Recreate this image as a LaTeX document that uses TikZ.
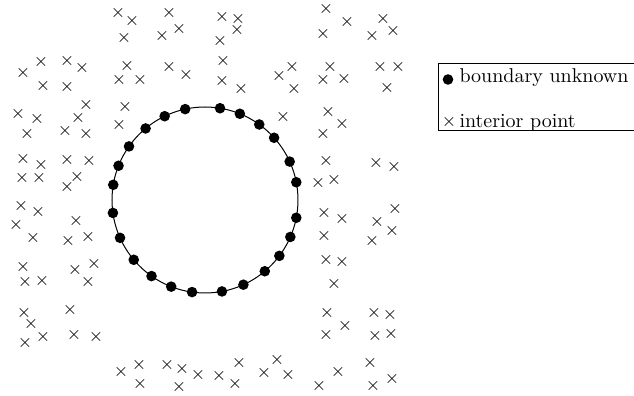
\documentclass[tikz,border=0pt]{standalone}
\begin{document}
\begin{tikzpicture}[x=0.5pt,y=-0.5pt,
  crossmark/.style={inner sep=0pt,outer sep=0pt,font=\small},
  bdot/.style={circle,fill=black,inner sep=0pt,minimum size=5.3pt},
  legtext/.style={anchor=base west,inner sep=0pt,outer sep=0pt}]
\clip (0,0) rectangle (634,396);
\coordinate (ctr) at (205,200);
\draw[line width=0.5pt] (ctr) circle[radius=46.5pt];
\foreach \a [count=\i] in {11,24.4,42,54.3,68,80.7,102.3,115.7,129.7,144.8,158.4,170.6,188,204,220,234.9,248.7,262,280.5,294.4,310,323.1,336.6,349}
  \path (ctr) ++(-\a:93) node[bdot] (b\i) {};
\foreach \p [count=\i] in {(118,13),(132,21),(124,38),(169,13),(179,29),(162,36),(41,62),(67,61),(82,68),(23,73),(43,86),(67,87),(127,66),(119,80),(140,80),(169,67),(186,75),(86,105),(18,114),(37,119),(78,118),(27,134),(65,131),(86,134),(125,107),(119,125),(23,159),(41,165),(67,160),(89,161),(22,178),(39,178),(67,187),(77,177),
 (222,17),(238,19),(237,30),(220,41),(223,61),(222,81),(241,89),(279,76),(292,67),(294,89),(326,9),(347,22),(323,34),(383,19),(393,31),(372,36),(330,67),(323,80),(344,79),(380,67),(398,67),(387,88),(283,117),(328,112),(342,124),(323,134),(326,161),(376,163),(394,167),(318,183),(334,180),
 (21,206),(38,212),(16,225),(76,221),(33,238),(68,241),(88,237),(23,267),(25,282),(42,281),(75,270),(94,264),(88,282),(24,313),(31,324),(25,343),(43,337),(70,310),(74,335),(96,337),(121,372),(139,365),(140,384),(167,365),(182,369),(179,387),(198,375),
 (219,376),(235,384),(239,363),(264,373),(277,360),(288,375),(319,386),(338,372),(370,363),(373,386),(392,379),(324,213),(342,219),(324,236),(326,260),(342,262),(334,284),(395,209),(377,222),(392,231),(372,241),(327,313),(345,326),(326,335),(374,313),(390,315),(375,336),(391,334)}
  \node[crossmark] (x\i) at \p {$\times$};
% legend
\draw[line width=0.5pt] (438.5,63.5) rectangle (645,131);
\node[bdot] (ld) at (448,79.5) {};
\node[legtext] (lt1) at (459.5,83) {boundary unknown};
\node[crossmark] (lx) at (449,122) {$\times$};
\node[legtext] (lt2) at (459.5,127) {interior point};
\end{tikzpicture}
\end{document}
